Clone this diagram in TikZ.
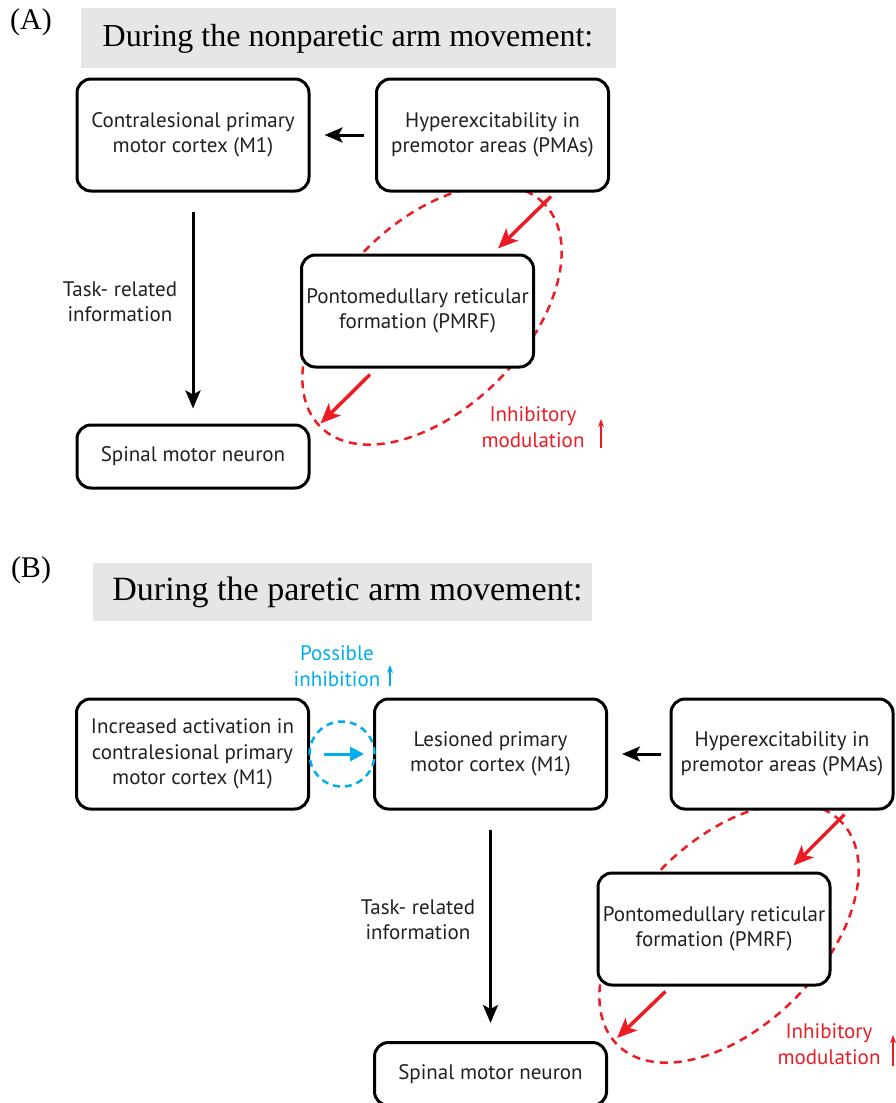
\documentclass[tikz,border=0pt]{standalone}
\usepackage{fontspec}
\setmainfont{Liberation Serif}
\newfontfamily\boxfont{PT Sans}
\usetikzlibrary{arrows.meta}
\definecolor{txt}{RGB}{35,31,32}
\definecolor{myred}{RGB}{237,28,36}
\definecolor{myblue}{RGB}{0,174,239}
\definecolor{hdr}{RGB}{230,230,230}
\begin{document}
\begin{tikzpicture}[x=1pt,y=-1pt,
  stagebox/.style={draw=black, line width=3pt, rounded corners=14pt, fill=white,
    align=center, text=txt, inner sep=0pt, minimum width=232pt, minimum height=112pt,
    font=\boxfont\fontsize{21}{25.5}\selectfont},
  lowbox/.style={stagebox, minimum height=63pt},
  header/.style={fill=hdr, inner sep=0pt},
  panel/.style={font=\fontsize{30}{36}\selectfont},
  plain/.style={align=center, text=txt, font=\boxfont\fontsize{21}{25.5}\selectfont},
  redlabel/.style={plain, text=myred},
  bluelabel/.style={plain, text=myblue},
  blk/.style={line width=3pt, -{Stealth[length=18pt,width=15pt,inset=4pt]}},
  redarr/.style={draw=myred, line width=3.5pt, -{Stealth[length=20pt,width=17pt,inset=5pt]}},
  thinup/.style={line width=1.5pt, -{Stealth[length=8pt,width=6pt]}},
  loop/.style={draw=myred, line width=2.5pt, dash pattern=on 8pt off 6pt}
]
\useasboundingbox (0,0) rectangle (895,1103);

% ---------------- Panel A ----------------
\node[panel] (labA) at (31,22) {(A)};
\node[header, minimum width=535pt, minimum height=60pt] (hdA) at (348.5,38) {};
\node[font=\fontsize{32}{38}\selectfont] (hdAt) at (348,39) {During the nonparetic arm movement:};

\coordinate (ecA) at (432,315);
\draw[loop, rotate around={45:(ecA)}] (ecA) ellipse [x radius=158pt, y radius=93pt];

\node[stagebox] (m1A)  at (193,135)   {Contralesional primary\\motor cortex (M1)};
\node[stagebox] (pmaA) at (492.5,135) {Hyperexcitability in\\premotor areas (PMAs)};
\node[stagebox] (rfA)  at (417.5,311) {Pontomedullary reticular\\formation (PMRF)};
\node[lowbox]   (spA)  at (193,456.5) {Spinal motor neuron};

\node[plain] (taskA) at (120,302) {Task- related\\information};
\node[redlabel] (inhA) at (533,427) {Inhibitory\\modulation};

\draw[blk, shorten <=11pt, shorten >=14pt] (pmaA.west) -- (m1A.east);
\draw[blk, shorten <=19pt, shorten >=15pt] (m1A.south) -- (spA.north);
\draw[redarr] ([shift={(-59,4)}]pmaA.south east) -- ([shift={(-37,-5)}]rfA.north east);
\draw[redarr] ([shift={(70,6)}]rfA.south west) -- ([shift={(10,0)}]spA.north east);
\coordinate (upA1) at (601,448);
\coordinate (upA2) at (601,419);
\draw[thinup, myred] (upA1) -- (upA2);

% ---------------- Panel B ----------------
\node[panel] (labB) at (31,570) {(B)};
\node[header, minimum width=499pt, minimum height=58pt] (hdB) at (342.5,592) {};
\node[font=\fontsize{34}{40}\selectfont] (hdBt) at (347.5,592) {During the paretic arm movement:};

\coordinate (ecB) at (729,933);
\draw[loop, rotate around={45:(ecB)}] (ecB) ellipse [x radius=158pt, y radius=93pt];

\node[stagebox, minimum height=110pt] (incB) at (192.5,754) {Increased activation in\\contralesional primary\\motor cortex (M1)};
\node[stagebox, minimum height=110pt] (lesB) at (490.5,754) {Lesioned primary\\motor cortex (M1)};
\node[stagebox, minimum height=110pt, minimum width=222pt] (pmaB) at (782,754) {Hyperexcitability in\\premotor areas (PMAs)};
\node[stagebox] (rfB) at (714,929) {Pontomedullary reticular\\formation (PMRF)};
\node[lowbox] (spB) at (490.5,1074) {Spinal motor neuron};

\node[plain] (taskB) at (418,920) {Task- related\\information};
\node[redlabel] (inhB) at (829,1044) {Inhibitory\\modulation};
\node[bluelabel] (posB) at (337,666) {Possible\\inhibition};

\node[draw=myblue, circle, line width=2.5pt, dash pattern=on 7pt off 5pt,
      minimum size=65pt, inner sep=0pt] (ring) at (342,754) {};
\draw[line width=3pt, myblue, -{Triangle[length=14pt,width=14pt]}, shorten <=14pt, shorten >=9pt]
  (incB.east) -- (lesB.west);

\draw[blk, shorten <=9pt, shorten >=14pt] (pmaB.west) -- (lesB.east);
\draw[blk, shorten <=19pt, shorten >=18pt] (lesB.south) -- (spB.north);
\draw[redarr] ([shift={(-50,4)}]pmaB.south east) -- ([shift={(-38,-6)}]rfB.north east);
\draw[redarr] ([shift={(69,5)}]rfB.south west) -- ([shift={(9,-3)}]spB.north east);
\coordinate (upB1) at (893,1066);
\coordinate (upB2) at (893,1035);
\draw[thinup, myred] (upB1) -- (upB2);
\coordinate (upC1) at (390,686);
\coordinate (upC2) at (390,665);
\draw[thinup, myblue] (upC1) -- (upC2);
\end{tikzpicture}
\end{document}
